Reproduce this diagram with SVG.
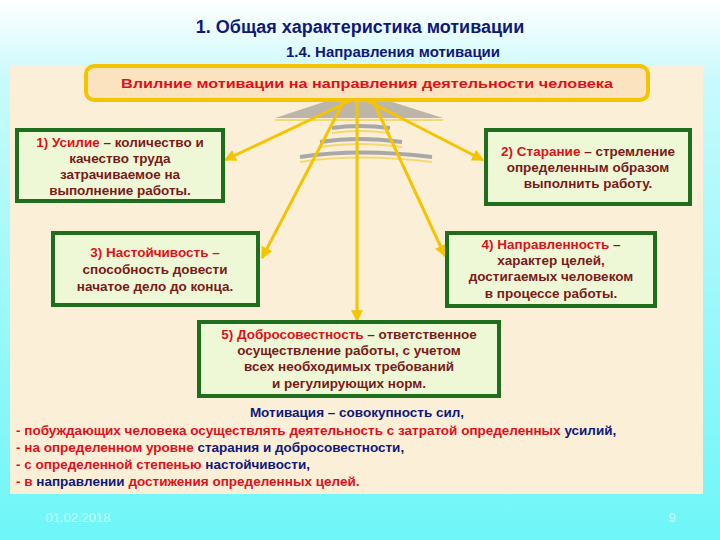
<svg xmlns="http://www.w3.org/2000/svg" width="720" height="540" viewBox="0 0 720 540">
<defs>
<linearGradient id="bg" x1="0" y1="0" x2="0" y2="1"><stop offset="0" stop-color="#ffffff"/><stop offset="0.15" stop-color="#c8fafc"/><stop offset="1" stop-color="#6ef6f8"/></linearGradient>
<marker id="ah" viewBox="0 0 10 10" refX="9" refY="5" markerWidth="4" markerHeight="4" orient="auto"><path d="M0,0L10,5L0,10z" fill="#f5c400"/></marker>
<style>
.box{fill:#eef8d6;stroke:#1e6e1e;stroke-width:4}
text{font-family:"Liberation Sans",Arial,sans-serif;font-weight:bold;font-size:13.5px;text-anchor:middle;fill:#7a1a1a}
.r{fill:#e0101a}
.b{fill:#101878}
.ln{stroke:#f5c400;stroke-width:3;fill:none}
</style>
</defs>
<rect width="720" height="540" fill="url(#bg)"/>
<rect x="10" y="66" width="693" height="428" fill="#fbefd8"/>
<text x="360" y="33" style="font-size:18px" class="b">1. Общая характеристика мотивации</text>
<text x="393" y="57" style="font-size:15px" class="b">1.4. Направления мотивации</text>
<g id="lamp">
<rect x="336" y="66" width="44" height="34" fill="#c8c0b4"/>
<path d="M330,100 L386,100 L443,118 L275,118 Z" fill="#bdb5aa"/>
<path d="M275,120 L443,120" stroke="#f5d870" stroke-width="2"/>
<path d="M332,128 Q358,124 390,128" stroke="#a8a8a8" stroke-width="4" fill="none"/>
<path d="M320,142 Q358,136 402,142" stroke="#a8a8a8" stroke-width="4" fill="none"/>
<path d="M300,157 Q358,148 432,157" stroke="#a8a8a8" stroke-width="4" fill="none"/>
<path d="M320,147 Q358,141 402,147 M300,162 Q358,153 432,162 M332,133 Q358,129 390,133" stroke="#f5d870" stroke-width="2" fill="none"/>
</g>
<g id="top"><rect x="86" y="66" width="562" height="34" rx="8" fill="#fbe3c0" stroke="#f5c400" stroke-width="4"/>
<text x="367" y="88" class="r" style="font-size:12.5px" textLength="492" lengthAdjust="spacingAndGlyphs">Влилние мотивации на направления деятельности человека</text></g>
<g id="connectors">
<line class="ln" x1="350" y1="101" x2="225" y2="160" marker-end="url(#ah)"/>
<line class="ln" x1="368" y1="101" x2="483" y2="160" marker-end="url(#ah)"/>
<line class="ln" x1="344" y1="101" x2="262" y2="258" marker-end="url(#ah)"/>
<line class="ln" x1="373" y1="101" x2="445" y2="256" marker-end="url(#ah)"/>
<line class="ln" x1="357" y1="101" x2="357" y2="321" marker-end="url(#ah)"/>
</g>
<g id="n1"><rect class="box" x="17" y="130" width="206" height="71"/>
<text x="120" y="147"><tspan class="r">1) Усилие</tspan> – количество и</text>
<text x="120" y="163">качество труда</text><text x="120" y="179">затрачиваемое на</text><text x="120" y="195">выполнение работы.</text></g>
<g id="n2"><rect class="box" x="486" y="130" width="204" height="74"/>
<text x="588" y="156"><tspan class="r">2) Старание</tspan> – стремление</text>
<text x="588" y="172">определенным образом</text><text x="588" y="188">выполнить работу.</text></g>
<g id="n3"><rect class="box" x="53" y="233" width="205" height="72"/>
<text x="155" y="257" class="r">3) Настойчивость –</text>
<text x="155" y="274">способность довести</text><text x="155" y="291">начатое дело до конца.</text></g>
<g id="n4"><rect class="box" x="447" y="233" width="208" height="73"/>
<text x="551" y="249"><tspan class="r">4) Направленность</tspan> –</text>
<text x="551" y="265">характер целей,</text><text x="551" y="281">достигаемых человеком</text><text x="551" y="298">в процессе работы.</text></g>
<g id="n5"><rect class="box" x="199" y="322" width="300" height="74"/>
<text x="349" y="339"><tspan class="r">5) Добросовестность</tspan> – ответственное</text>
<text x="349" y="355">осуществление работы, с учетом</text><text x="349" y="371">всех необходимых требований</text><text x="349" y="388">и регулирующих норм.</text></g>
<g id="def">
<text x="357" y="417" class="b">Мотивация – совокупность сил,</text>
<text x="16" y="435" class="r" style="text-anchor:start">- побуждающих человека осуществлять деятельность с затратой определенных <tspan class="b">усилий,</tspan></text>
<text x="16" y="452" class="r" style="text-anchor:start">- на определенном уровне <tspan class="b">старания и добросовестности,</tspan></text>
<text x="16" y="469" class="r" style="text-anchor:start">- с определенной степенью <tspan class="b">настойчивости,</tspan></text>
<text x="16" y="486" class="r" style="text-anchor:start">- в <tspan class="b">направлении</tspan> достижения определенных целей.</text>
</g>
<text x="78" y="522" style="font-weight:normal;font-size:13px;fill:#c8ffff">01.02.2018</text>
<text x="672" y="522" style="font-weight:normal;font-size:13px;fill:#c8ffff">9</text>
</svg>
